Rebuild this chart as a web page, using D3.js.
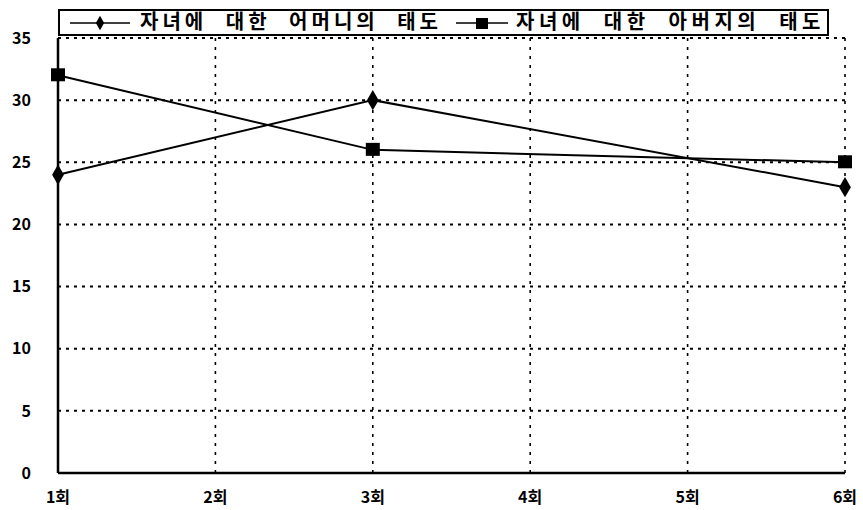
<!DOCTYPE html>
<html>
<head>
<meta charset="utf-8">
<script src="https://cdn.jsdelivr.net/npm/d3@7"></script>
<style>
  body { margin: 0; background: #fff; }
  svg text { font-family: "Noto Sans CJK KR", "DejaVu Sans", sans-serif; fill: #000; }
</style>
</head>
<body>
<div id="chart"></div>
<script>
const width = 863, height = 510;
const margin = {top: 38, right: 18, bottom: 37, left: 58};

// data
const categories = ["1회", "2회", "3회", "4회", "5회", "6회"];
const yTicks = [0, 5, 10, 15, 20, 25, 30, 35];
const seriesNames = ["자녀에 대한 어머니의 태도", "자녀에 대한 아버지의 태도"];
const motherPoints = [["1회", 24], ["3회", 30], ["6회", 23]];
const fatherPoints = [["1회", 32], ["3회", 26], ["6회", 25]];

const svg = d3.select("#chart").append("svg")
    .attr("width", width)
    .attr("height", height);

const x = d3.scalePoint()
    .domain(categories)
    .range([margin.left, width - margin.right]);

const y = d3.scaleLinear()
    .domain([0, 35])
    .range([height - margin.bottom, margin.top]);

// grid
const grid = svg.append("g");
grid.selectAll(".hgrid")
    .data(yTicks.filter(d => d > 0))
    .join("line")
    .attr("x1", margin.left).attr("x2", width - margin.right)
    .attr("y1", d => y(d)).attr("y2", d => y(d))
    .attr("stroke", "#000").attr("stroke-width", 2)
    .attr("stroke-dasharray", "3,5");
grid.selectAll(".vgrid")
    .data(categories.slice(1))
    .join("line")
    .attr("x1", d => x(d)).attr("x2", d => x(d))
    .attr("y1", margin.top).attr("y2", height - margin.bottom)
    .attr("stroke", "#000").attr("stroke-width", 1.6)
    .attr("stroke-dasharray", "3,6");

// axes
svg.append("line")
    .attr("x1", margin.left).attr("x2", margin.left)
    .attr("y1", margin.top).attr("y2", height - margin.bottom)
    .attr("stroke", "#000").attr("stroke-width", 2.5);
svg.append("line")
    .attr("x1", margin.left).attr("x2", width - margin.right)
    .attr("y1", height - margin.bottom).attr("y2", height - margin.bottom)
    .attr("stroke", "#000").attr("stroke-width", 2.5);

svg.append("g").selectAll("text")
    .data(yTicks)
    .join("text")
    .attr("x", 31).attr("y", d => y(d))
    .attr("dy", "0.36em")
    .attr("text-anchor", "end")
    .style("font-size", "16px")
    .style("font-weight", "bold")
    .text(d => d);

svg.append("g").selectAll("text")
    .data(categories)
    .join("text")
    .attr("x", d => x(d)).attr("y", 503)
    .attr("text-anchor", "middle")
    .style("font-size", "16px")
    .style("font-weight", "bold")
    .text(d => d);

// lines
const line = d3.line()
    .x(d => x(d[0]))
    .y(d => y(d[1]));

[motherPoints, fatherPoints].forEach(pts => {
    svg.append("path")
        .datum(pts)
        .attr("d", line)
        .attr("fill", "none")
        .attr("stroke", "#000")
        .attr("stroke-width", 2);
});

svg.append("g").selectAll("path")
    .data(motherPoints)
    .join("path")
    .attr("transform", d => `translate(${x(d[0])},${y(d[1])})`)
    .attr("d", d3.symbol(d3.symbolDiamond, 120));

svg.append("g").selectAll("rect")
    .data(fatherPoints)
    .join("rect")
    .attr("x", d => x(d[0]) - 7).attr("y", d => y(d[1]) - 7)
    .attr("width", 14).attr("height", 13);

// legend
const legend = svg.append("g");
legend.append("rect")
    .attr("x", 59).attr("y", 10)
    .attr("width", 769).attr("height", 25)
    .attr("fill", "#fff").attr("stroke", "#000").attr("stroke-width", 2);

legend.append("line")
    .attr("x1", 70).attr("x2", 130).attr("y1", 23).attr("y2", 23)
    .attr("stroke", "#000").attr("stroke-width", 1.5);
legend.append("path")
    .attr("transform", "translate(100,23)")
    .attr("d", d3.symbol(d3.symbolDiamond, 60));
legend.append("text")
    .attr("x", 140).attr("y", 22).attr("dy", "0.36em")
    .style("font-size", "20px").style("font-weight", "bold")
    .style("letter-spacing", "4px").style("word-spacing", "10px")
    .text(seriesNames[0]);

legend.append("line")
    .attr("x1", 456).attr("x2", 508).attr("y1", 23).attr("y2", 23)
    .attr("stroke", "#000").attr("stroke-width", 1.5);
legend.append("rect")
    .attr("x", 476).attr("y", 18).attr("width", 12).attr("height", 11);
legend.append("text")
    .attr("x", 516).attr("y", 22).attr("dy", "0.36em")
    .style("font-size", "20px").style("font-weight", "bold")
    .style("letter-spacing", "4.5px").style("word-spacing", "10px")
    .text(seriesNames[1]);
</script>
</body>
</html>
